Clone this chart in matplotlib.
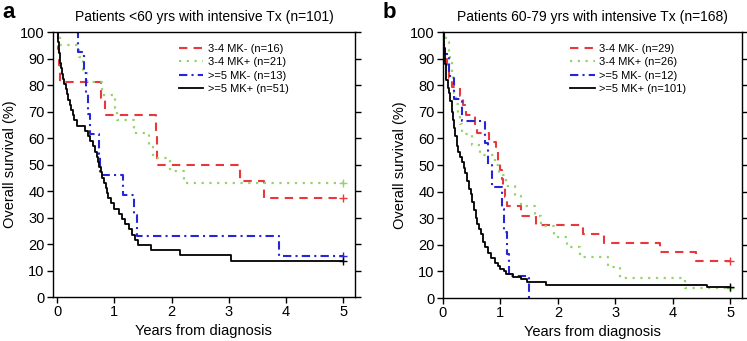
import matplotlib
matplotlib.use("Agg")
from matplotlib import pyplot as plt

plt.rcParams['font.family'] = ['Liberation Sans', 'DejaVu Sans']

# panel a: patients <60 yrs
a_red_t = [0, 0.01, 0.03, 0.05, 0.76, 0.83, 1.73, 1.74, 1.75, 3.2, 3.62, 5]
a_red_s = [100, 93.75, 87.5, 81.25, 75, 68.75, 62.5, 56.25, 50, 43.75, 37.5, 37.5]

a_green_t = [0, 0.05, 0.38, 0.45, 0.52, 0.78, 1.02, 1.05, 1.35, 1.6, 1.68, 1.97, 2.22, 5]
a_green_s = [100, 95.2, 90.5, 85.7, 81.0, 76.2, 71.4, 66.7, 61.9, 57.1, 52.4, 47.6, 42.9, 42.9]

a_blue_t = [0, 0.37, 0.47, 0.51, 0.54, 0.57, 0.74, 0.75, 1.15, 1.35, 1.39, 3.87, 5]
a_blue_s = [100, 92.3, 84.6, 76.9, 69.2, 61.5, 53.8, 46.2, 38.5, 30.8, 23.1, 15.4, 15.4]

a_black_t = [0, 0.01, 0.02, 0.03, 0.04, 0.05, 0.06, 0.07, 0.09, 0.11, 0.13, 0.15,
             0.17, 0.2, 0.22, 0.25, 0.28, 0.3, 0.34, 0.48, 0.54, 0.58, 0.63, 0.67,
             0.7, 0.72, 0.74, 0.76, 0.78, 0.82, 0.86, 0.87, 0.89, 0.95, 1.0, 1.08,
             1.13, 1.18, 1.25, 1.31, 1.36, 1.42, 1.64, 2.14, 3.03, 5]
a_black_s = [100, 98.0, 96.1, 94.1, 92.2, 90.2, 88.2, 86.3, 84.3, 82.4, 80.4, 78.4,
             76.5, 74.5, 72.5, 70.6, 68.6, 66.7, 64.7, 62.7, 60.8, 58.8, 56.9, 54.9,
             52.9, 51.0, 49.0, 47.1, 45.1, 43.1, 41.2, 39.2, 37.3, 35.3, 33.3, 31.4,
             29.4, 27.5, 25.5, 23.5, 21.6, 19.6, 17.6, 15.7, 13.7, 13.7]

# panel b: patients 60-79 yrs
b_red_t = [0, 0.01, 0.02, 0.04, 0.07, 0.11, 0.15, 0.3, 0.35, 0.4, 0.55, 0.6, 0.8,
           0.93, 0.96, 0.99, 1.02, 1.05, 1.08, 1.12, 1.35, 1.62, 2.44, 2.8, 3.78,
           4.4, 5]
b_red_s = [100, 96.6, 93.1, 89.7, 86.2, 82.8, 79.3, 75.9, 72.4, 69.0, 65.5, 62.1,
           58.6, 55.2, 51.7, 48.3, 44.8, 41.4, 37.9, 34.5, 31.0, 27.6, 24.1, 20.7,
           17.2, 13.8, 13.8]

b_green_t = [0, 0.05, 0.1, 0.12, 0.15, 0.18, 0.2, 0.23, 0.27, 0.3, 0.33, 0.5, 0.65,
             0.9, 0.98, 1.1, 1.25, 1.35, 1.6, 1.7, 1.94, 2.15, 2.38, 2.88, 3.08,
             4.22, 5]
b_green_s = [100, 96.2, 92.3, 88.5, 84.6, 80.8, 76.9, 73.1, 69.2, 65.4, 61.5, 57.7,
             53.8, 50.0, 46.2, 42.3, 38.5, 34.6, 30.8, 26.9, 23.1, 19.2, 15.4, 11.5,
             7.7, 3.8, 3.8]

b_blue_t = [0, 0.02, 0.1, 0.2, 0.33, 0.74, 0.78, 0.85, 1.03, 1.07, 1.12, 1.15, 1.5]
b_blue_s = [100, 91.7, 83.3, 75.0, 66.7, 58.3, 50.0, 41.7, 33.3, 25.0, 16.7, 8.3, 0]

b_black_t = [0, 0.01, 0.02, 0.03, 0.04, 0.05, 0.06, 0.08, 0.1, 0.12, 0.15, 0.17,
             0.19, 0.21, 0.24, 0.27, 0.3, 0.33, 0.36, 0.39, 0.42, 0.45, 0.48, 0.51,
             0.54, 0.57, 0.6, 0.63, 0.66, 0.7, 0.74, 0.78, 0.84, 0.9, 0.96, 1.0,
             1.06, 1.1, 1.22, 1.35, 1.47, 1.68, 1.79, 4.6, 5]
b_black_s = [100, 97, 94, 91, 88, 85, 82, 79, 77, 74, 70, 67,
             64, 61, 57, 55, 53, 51, 49, 47, 44, 41, 39, 36,
             33, 30, 28, 26, 24, 21, 19, 17, 15, 13, 12, 11,
             10, 9, 8, 7, 6, 5.9, 5, 4, 4]

a_labels = ['3-4 MK- (n=16)', '3-4 MK+ (n=21)', '>=5 MK- (n=13)', '>=5 MK+ (n=51)']
b_labels = ['3-4 MK- (n=29)', '3-4 MK+ (n=26)', '>=5 MK- (n=12)', '>=5 MK+ (n=101)']

red = '#e8383c'
green = '#96d26c'
blue = '#2626d6'

fig = plt.figure(figsize=(7.47, 3.41), dpi=100)
ax_a = fig.add_axes([0.071, 0.129, 0.404, 0.777])
ax_b = fig.add_axes([0.593, 0.126, 0.400, 0.780])


def draw(ax, curves, labels, title, censor_blue, leg_x):
    styles = [
        dict(color=red, linestyle=(0, (4, 3)), lw=1.5),
        dict(color=green, linestyle=(0, (1, 2.5)), lw=1.6),
        dict(color=blue, linestyle=(0, (4, 2, 1, 2)), lw=1.5),
        dict(color='black', linestyle='-', lw=1.3),
    ]
    for (t, s), lab, st in zip(curves, labels, styles):
        ax.step(t, s, where='post', label=lab, **st)
    # censor marks at 5 years
    for i, (t, s) in enumerate(curves):
        if i == 2 and not censor_blue:
            continue
        ax.plot(t[-1], s[-1], marker='+', ms=6, mew=1, color=styles[i]['color'])

    ax.set_ylim(0, 100)
    ax.set_yticks(range(0, 101, 10))
    ax.set_xticks(range(0, 6))
    ax.tick_params(direction='out', length=4, width=1, labelsize=10.5,
                   right=True, pad=2)
    for sp in ax.spines.values():
        sp.set_linewidth(1)
    ax.set_xlabel('Years from diagnosis', fontsize=10.5, labelpad=3)
    ax.set_ylabel('Overall survival (%)', fontsize=10.5, labelpad=2)
    ax.set_title(title, fontsize=10, pad=8)
    ax.legend(loc='upper right', bbox_to_anchor=(leg_x, 0.955), frameon=False,
              fontsize=8, handlelength=2.2, handletextpad=0.4, labelspacing=0.3,
              borderpad=0, borderaxespad=0)


draw(ax_a, [(a_red_t, a_red_s), (a_green_t, a_green_s), (a_blue_t, a_blue_s),
            (a_black_t, a_black_s)], a_labels,
     'Patients <60 yrs with intensive Tx (n=101)', True, 0.78)
ax_a.set_xlim(-0.07, 5.2)

draw(ax_b, [(b_red_t, b_red_s), (b_green_t, b_green_s), (b_blue_t, b_blue_s),
            (b_black_t, b_black_s)], b_labels,
     'Patients 60-79 yrs with intensive Tx (n=168)', False, 0.815)
ax_b.set_xlim(0, 5.2)

fig.text(0.003, 0.995, 'a', fontsize=16, fontweight='bold', va='top')
fig.text(0.512, 0.995, 'b', fontsize=16, fontweight='bold', va='top')

fig.savefig('out.png', dpi=100)
